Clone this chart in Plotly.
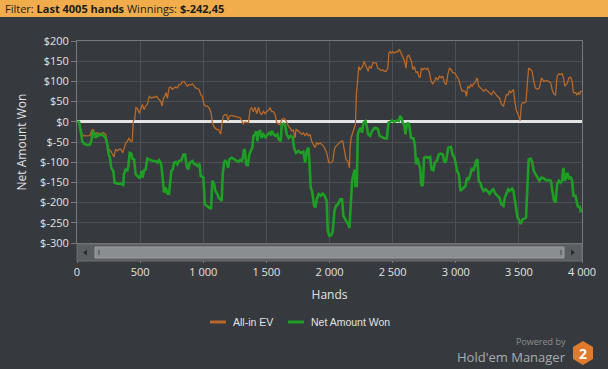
import plotly.graph_objects as go

# ---------------- data ----------------
hands_net = [0, 16, 29, 42, 55, 82, 103, 114, 124, 135, 145, 156, 166, 188, 209, 227, 240, 251, 261, 272,
             288, 298, 320, 341, 367, 372, 385, 399, 407, 417, 431, 438, 452, 465, 478, 499, 510, 520, 531, 544,
             557, 578, 600, 623, 637, 650, 663, 671, 679, 689, 703, 716, 729, 737, 747, 758, 769, 782, 795, 808,
             827, 843, 856, 869, 880, 895, 914, 927, 940, 954, 970, 980, 1001, 1012, 1027, 1049, 1062, 1072, 1086, 1096,
             1112, 1122, 1133, 1146, 1154, 1165, 1175, 1186, 1196, 1207, 1225, 1244, 1260, 1278, 1292, 1305, 1313, 1323, 1331, 1339,
             1352, 1365, 1376, 1389, 1397, 1410, 1418, 1429, 1437, 1450, 1461, 1476, 1492, 1508, 1524, 1535, 1545, 1556, 1571, 1587,
             1598, 1614, 1622, 1635, 1648, 1661, 1677, 1693, 1709, 1719, 1735, 1754, 1772, 1793, 1807, 1820, 1833, 1841, 1851, 1862,
             1878, 1888, 1899, 1915, 1931, 1946, 1962, 1978, 1986, 1999, 2015, 2026, 2039, 2052, 2068, 2084, 2100, 2110, 2124, 2137,
             2147, 2158, 2168, 2179, 2190, 2200, 2205, 2216, 2224, 2237, 2248, 2258, 2269, 2285, 2295, 2306, 2322, 2337, 2356, 2374,
             2385, 2396, 2417, 2435, 2454, 2467, 2480, 2496, 2514, 2533, 2549, 2559, 2570, 2580, 2591, 2602, 2612, 2623, 2633, 2646,
             2665, 2675, 2686, 2697, 2707, 2718, 2726, 2739, 2749, 2765, 2781, 2797, 2808, 2823, 2834, 2850, 2866, 2881, 2897, 2911,
             2924, 2940, 2962, 2975, 2990, 3011, 3024, 3037, 3050, 3063, 3077, 3090, 3103, 3116, 3129, 3140, 3151, 3161, 3172, 3182,
             3195, 3209, 3222, 3235, 3251, 3267, 3283, 3298, 3314, 3330, 3346, 3362, 3378, 3388, 3401, 3415, 3425, 3436, 3446, 3457,
             3468, 3478, 3489, 3499, 3510, 3520, 3531, 3547, 3557, 3568, 3578, 3594, 3605, 3618, 3631, 3647, 3663, 3679, 3697, 3716,
             3737, 3753, 3763, 3776, 3790, 3803, 3816, 3829, 3842, 3853, 3864, 3874, 3885, 3895, 3911, 3922, 3932, 3948, 3959, 3969,
             3980, 3990, 4005]
net_won = [0, 0, -23, -48, -54, -58, -56, -46, -23, -27, -40, -31, -35, -31, -34, -40, -56, -81, -89, -114,
           -122, -151, -153, -153, -156, -130, -118, -120, -109, -77, -79, -91, -93, -130, -134, -140, -122, -138, -120, -118,
           -91, -93, -97, -97, -101, -95, -101, -114, -151, -175, -163, -178, -178, -146, -122, -118, -101, -99, -105, -97,
           -95, -81, -81, -109, -118, -101, -97, -104, -105, -109, -104, -134, -138, -204, -208, -212, -216, -146, -153, -171,
           -179, -188, -192, -196, -130, -101, -97, -100, -114, -93, -89, -93, -95, -99, -95, -97, -89, -68, -72, -105,
           -109, -81, -72, -64, -35, -31, -23, -48, -27, -21, -40, -31, -38, -31, -27, -31, -23, -31, -35, -31,
           -44, -48, -7, -5, -8, -31, -40, -35, -38, -64, -77, -72, -77, -74, -101, -72, -64, -97, -163, -171,
           -208, -212, -192, -179, -183, -178, -183, -196, -270, -282, -280, -270, -221, -208, -204, -192, -192, -233, -241, -245,
           -253, -263, -188, -146, -130, -118, -159, -159, -31, -19, -15, -27, -2, 2, -11, -31, -35, -23, -15, -16,
           -19, -35, -38, -41, -41, -2, 0, 3, 0, 3, 2, 14, 10, -2, -7, -31, -7, -2, -11, -40,
           -41, -56, -105, -89, -105, -114, -155, -159, -89, -87, -89, -87, -118, -120, -101, -97, -81, -79, -81, -101,
           -97, -64, -62, -81, -89, -122, -130, -171, -167, -163, -159, -138, -142, -130, -114, -122, -109, -97, -93, -146,
           -151, -165, -171, -167, -171, -178, -171, -167, -178, -183, -188, -204, -208, -188, -179, -167, -171, -167, -165, -171,
           -196, -212, -237, -241, -253, -249, -241, -239, -237, -155, -93, -91, -99, -122, -128, -138, -146, -138, -140, -145,
           -144, -146, -171, -192, -200, -155, -146, -151, -146, -114, -146, -138, -126, -140, -138, -146, -183, -183, -196, -212,
           -208, -221, -218]

hands_ev = [0, 16, 29, 42, 55, 82, 103, 114, 124, 135, 145, 161, 182, 209, 227, 240, 251, 267, 280, 293,
            306, 320, 333, 346, 362, 372, 385, 399, 412, 425, 438, 446, 457, 467, 478, 494, 504, 518, 531, 544,
            557, 573, 589, 610, 631, 650, 663, 674, 684, 695, 705, 716, 729, 742, 755, 769, 782, 795, 808, 821,
            835, 848, 861, 874, 887, 901, 914, 927, 940, 954, 967, 980, 993, 1006, 1017, 1033, 1049, 1062, 1072, 1086,
            1096, 1107, 1120, 1128, 1138, 1149, 1159, 1173, 1186, 1196, 1207, 1225, 1244, 1260, 1278, 1292, 1305, 1318, 1331, 1344,
            1358, 1371, 1384, 1397, 1410, 1424, 1437, 1450, 1463, 1476, 1490, 1503, 1516, 1529, 1542, 1556, 1569, 1582, 1595, 1608,
            1622, 1635, 1648, 1661, 1674, 1688, 1701, 1714, 1727, 1735, 1754, 1767, 1780, 1793, 1807, 1820, 1833, 1846, 1859, 1872,
            1886, 1899, 1912, 1925, 1939, 1952, 1965, 1978, 1994, 2013, 2026, 2039, 2052, 2065, 2079, 2092, 2105, 2118, 2131, 2145,
            2158, 2163, 2171, 2184, 2197, 2205, 2213, 2224, 2232, 2242, 2253, 2263, 2274, 2285, 2295, 2306, 2316, 2330, 2343, 2356,
            2369, 2382, 2396, 2409, 2422, 2435, 2448, 2462, 2470, 2480, 2491, 2501, 2514, 2528, 2541, 2554, 2567, 2580, 2594, 2607,
            2615, 2628, 2639, 2649, 2660, 2673, 2686, 2697, 2707, 2718, 2728, 2739, 2752, 2765, 2778, 2792, 2805, 2818, 2831, 2844,
            2858, 2871, 2884, 2897, 2911, 2924, 2937, 2950, 2963, 2977, 2992, 3011, 3024, 3037, 3050, 3063, 3077, 3085, 3095, 3108,
            3119, 3129, 3140, 3151, 3161, 3169, 3182, 3195, 3209, 3222, 3235, 3251, 3267, 3283, 3298, 3314, 3330, 3346, 3362, 3378,
            3388, 3401, 3415, 3425, 3436, 3446, 3457, 3468, 3478, 3489, 3499, 3510, 3520, 3531, 3547, 3557, 3568, 3578, 3594, 3605,
            3618, 3631, 3647, 3663, 3679, 3697, 3716, 3737, 3753, 3763, 3776, 3790, 3803, 3816, 3829, 3842, 3853, 3864, 3874, 3885,
            3895, 3911, 3922, 3932, 3948, 3959, 3969, 3980, 3990, 4005]
allin_ev = [0, 0, -19, -31, -35, -35, -34, -23, -19, -23, -31, -27, -29, -27, -31, -56, -68, -72, -79, -87,
            -68, -72, -68, -68, -77, -68, -54, -48, -41, -48, -48, 2, 6, 35, 33, 21, 33, 43, 30, 39,
            43, 63, 59, 61, 63, 55, 51, 39, 59, 63, 72, 58, 84, 86, 80, 84, 86, 84, 92, 92,
            99, 100, 92, 88, 92, 91, 94, 88, 84, 82, 80, 67, 63, 43, 39, 39, 33, 22, -2, -13,
            -15, -19, -19, -27, -31, -2, 14, 18, 18, 2, 14, 16, 14, 12, 10, 10, 3, -5, 0, -2,
            -2, 30, 35, 25, 36, 20, 36, 22, 18, 26, 20, 26, 28, 35, 25, 25, 18, -2, -5, -7,
            6, 8, 6, 0, -11, -15, -23, -21, -40, -19, -23, -27, -31, -27, -35, -27, -35, -31, -48, -56,
            -64, -52, -56, -52, -56, -60, -68, -77, -101, -101, -97, -68, -60, -56, -52, -48, -48, -68, -93, -97,
            -114, -64, -40, -27, -15, -7, 67, 125, 137, 129, 133, 137, 150, 141, 133, 125, 137, 133, 146, 146,
            146, 133, 129, 127, 129, 125, 125, 133, 170, 174, 170, 173, 170, 174, 173, 179, 170, 162, 151, 133,
            162, 165, 154, 150, 129, 137, 121, 125, 113, 109, 133, 129, 133, 129, 133, 121, 100, 94, 100, 109,
            104, 113, 109, 113, 96, 92, 117, 133, 129, 121, 121, 109, 104, 88, 76, 77, 74, 63, 88, 84,
            92, 88, 94, 96, 102, 109, 88, 85, 80, 76, 80, 76, 72, 67, 76, 69, 63, 59, 43, 39,
            51, 67, 67, 76, 72, 77, 80, 51, 30, 22, 14, 3, 43, 47, 47, 51, 100, 133, 129, 125,
            100, 84, 80, 84, 109, 100, 102, 100, 96, 80, 69, 66, 113, 119, 117, 119, 109, 88, 92, 96,
            109, 110, 100, 72, 72, 67, 72, 67, 76, 74]

y_tick_vals = [200, 150, 100, 50, 0, -50, -100, -150, -200, -250, -300]
y_tick_text = ["$200", "$150", "$100", "$50", "$0", "$-50", "$-100", "$-150", "$-200", "$-250", "$-300"]
x_tick_vals = [0, 500, 1000, 1500, 2000, 2500, 3000, 3500, 4000]
x_tick_text = ["0", "500", "1 000", "1 500", "2 000", "2 500", "3 000", "3 500", "4 000"]

series_names = ["All-in EV", "Net Amount Won"]
header_text = "Filter: <b>Last 4005 hands</b> Winnings: <b>$-242,45</b>"

# ---------------- style ----------------
BG = "#36393d"
GRID = "#4c4f53"
AXLINE = "#76797d"
TXT = "#e2e2e2"
ORANGE = "#b8692a"
GREEN = "#1f9e25"
W_FIG, H_FIG = 608, 369
L, R, T, B = 77, 582, 41, 243


def px(x):
    return (x - L) / (R - L)


def py(y):
    return (B - y) / (B - T)


fig = go.Figure()
fig.add_trace(go.Scatter(x=hands_ev, y=allin_ev, mode="lines", name=series_names[0],
                         line=dict(color=ORANGE, width=1.3), hoverinfo="skip"))
fig.add_trace(go.Scatter(x=hands_net, y=net_won, mode="lines", name=series_names[1],
                         line=dict(color=GREEN, width=2.6), hoverinfo="skip"))

shapes = []
annotations = []

# header bar
shapes.append(dict(type="rect", xref="paper", yref="paper", x0=px(0), x1=px(W_FIG), y0=py(17), y1=py(0),
                   fillcolor="#f1ad4c", line=dict(width=0), layer="above"))
annotations.append(dict(xref="paper", yref="paper", x=px(3), y=py(8.5), xanchor="left", yanchor="middle",
                        text=header_text, showarrow=False,
                        font=dict(family="Open Sans", size=11, color="#1c1c1c")))

# scrollbar
shapes.append(dict(type="rect", xref="paper", yref="paper", x0=px(77), x1=px(582), y0=py(261), y1=py(244),
                   fillcolor="#5a5d61", line=dict(color="#6c6f73", width=1), layer="above"))
shapes.append(dict(type="rect", xref="paper", yref="paper", x0=px(95), x1=px(564), y0=py(258), y1=py(247),
                   fillcolor="#8b8e91", line=dict(color="#9a9da0", width=1), layer="above"))
for gx in (98, 560):
    shapes.append(dict(type="rect", xref="paper", yref="paper", x0=px(gx), x1=px(gx + 2), y0=py(255), y1=py(250),
                       fillcolor="#6a6d70", line=dict(width=0), layer="above"))
shapes.append(dict(type="path", xref="paper", yref="paper",
                   path=f"M {px(83)},{py(252.5)} L {px(87)},{py(249.5)} L {px(87)},{py(255.5)} Z",
                   fillcolor="#2a2c2f", line=dict(width=0), layer="above"))
shapes.append(dict(type="path", xref="paper", yref="paper",
                   path=f"M {px(575)},{py(252.5)} L {px(571)},{py(249.5)} L {px(571)},{py(255.5)} Z",
                   fillcolor="#2a2c2f", line=dict(width=0), layer="above"))

# legend (manual)
shapes.append(dict(type="line", xref="paper", yref="paper", x0=px(210), x1=px(226), y0=py(322), y1=py(322),
                   line=dict(color=ORANGE, width=3), layer="above"))
annotations.append(dict(xref="paper", yref="paper", x=px(231), y=py(322), xanchor="left", yanchor="middle",
                        text=series_names[0], showarrow=False,
                        font=dict(family="Liberation Sans", size=10.5, color=TXT)))
shapes.append(dict(type="line", xref="paper", yref="paper", x0=px(288), x1=px(304), y0=py(322), y1=py(322),
                   line=dict(color=GREEN, width=3), layer="above"))
annotations.append(dict(xref="paper", yref="paper", x=px(309), y=py(322), xanchor="left", yanchor="middle",
                        text=series_names[1], showarrow=False,
                        font=dict(family="Liberation Sans", size=10.5, color=TXT)))

# branding
annotations.append(dict(xref="paper", yref="paper", x=px(568), y=py(341.5), xanchor="right", yanchor="middle",
                        text="Powered by", showarrow=False,
                        font=dict(family="Open Sans", size=9, color="#8c8f93")))
annotations.append(dict(xref="paper", yref="paper", x=px(568), y=py(357.5), xanchor="right", yanchor="middle",
                        text="Hold'em Manager", showarrow=False,
                        font=dict(family="Open Sans", size=13, color="#a9acaf")))
hx = [583, 593, 593, 583, 573, 573]
hy = [341, 347, 359, 365, 359, 347]
hex_path = "M " + " L ".join(f"{px(a)},{py(b)}" for a, b in zip(hx, hy)) + " Z"
shapes.append(dict(type="path", xref="paper", yref="paper", path=hex_path,
                   fillcolor="#e07a2c", line=dict(width=0), layer="above"))
annotations.append(dict(xref="paper", yref="paper", x=px(583), y=py(353), xanchor="center", yanchor="middle",
                        text="<b>2</b>", showarrow=False,
                        font=dict(family="Open Sans", size=14, color="#ffffff")))

fig.update_layout(
    width=W_FIG, height=H_FIG,
    margin=dict(l=L, r=W_FIG - R, t=T, b=H_FIG - B, pad=0, autoexpand=False),
    paper_bgcolor=BG, plot_bgcolor=BG,
    showlegend=False,
    shapes=shapes, annotations=annotations,
    font=dict(family="Open Sans", color=TXT, size=11),
    xaxis=dict(range=[0, 4000], tickvals=x_tick_vals, ticktext=x_tick_text,
               showgrid=True, gridcolor=GRID, gridwidth=1, zeroline=False,
               showline=True, linecolor=AXLINE, mirror=True,
               ticks="outside", ticklen=19, tickcolor=AXLINE,
               tickfont=dict(family="Open Sans", size=11, color=TXT),
               title=dict(text="Hands", standoff=12, font=dict(family="Open Sans", size=12, color=TXT)),
               automargin=False, fixedrange=True),
    yaxis=dict(range=[-300, 200], tickvals=y_tick_vals, ticktext=y_tick_text,
               showgrid=True, gridcolor=GRID, gridwidth=1,
               zeroline=True, zerolinecolor="#e4e4e4", zerolinewidth=3,
               showline=True, linecolor=AXLINE, mirror=True,
               ticks="outside", ticklen=5, tickcolor=AXLINE,
               tickfont=dict(family="Open Sans", size=11, color=TXT),
               title=dict(text="Net Amount Won", standoff=10, font=dict(family="Open Sans", size=12, color=TXT)),
               automargin=False, fixedrange=True),
)

fig.write_html("out.html", config={"displayModeBar": False},
               post_script="document.body.style.margin='0';document.body.style.background='" + BG + "';")
